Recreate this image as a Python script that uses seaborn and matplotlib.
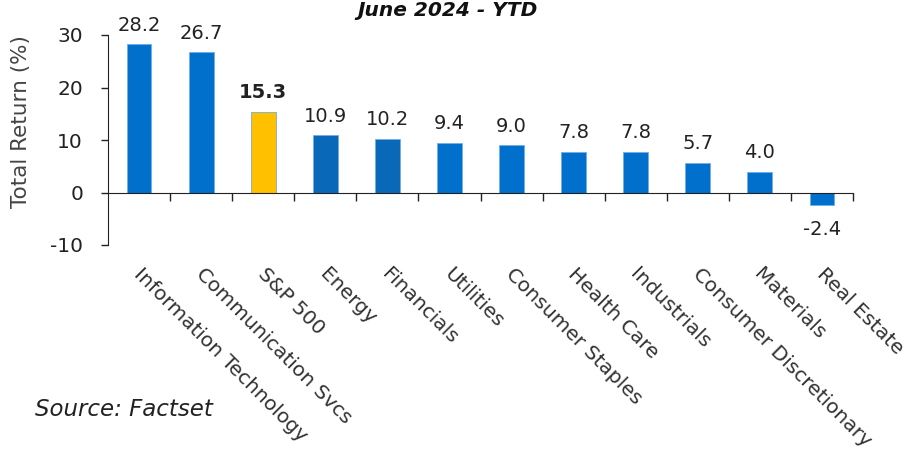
import matplotlib
matplotlib.use("Agg")
import matplotlib.pyplot as plt
import matplotlib.transforms as mtransforms
import seaborn as sns
import pandas as pd

categories = ["Information Technology", "Communication Svcs", "S&P 500", "Energy",
              "Financials", "Utilities", "Consumer Staples", "Health Care",
              "Industrials", "Consumer Discretionary", "Materials", "Real Estate"]
returns = [28.2, 26.7, 15.3, 10.9, 10.2, 9.4, 9.0, 7.8, 7.8, 5.7, 4.0, -2.4]
bar_colors = ["#0070CC", "#0070CC", "#FFC000", "#0A68B8", "#0A68B8", "#0070CC",
              "#0070CC", "#0070CC", "#0070CC", "#0070CC", "#0070CC", "#0070CC"]
highlight = "S&P 500"

sns.set_style("white")
plt.rcParams["font.family"] = ["DejaVu Sans"]
plt.rcParams["axes.unicode_minus"] = False

df = pd.DataFrame({"Sector": categories, "Return": returns})

W, H = 906, 451
fig = plt.figure(figsize=(W / 100, H / 100), dpi=100)
ax = fig.add_axes([108 / W, (H - 245) / H, (853 - 108) / W, (245 - 35) / H])

sns.barplot(data=df, x="Sector", y="Return", hue="Sector", palette=bar_colors,
            legend=False, width=0.4, ax=ax, saturation=1,
            edgecolor="#6FAEE8", linewidth=0.6)

ax.set_ylim(-10, 30)
ax.set_xlim(-0.5, len(categories) - 0.5)
ax.set_yticks([-10, 0, 10, 20, 30])
ax.tick_params(axis="y", labelsize=14.5, length=5, width=1, color="#222222",
               labelcolor="#222222", direction="out", left=True, pad=13)
ax.set_ylabel("Total Return (%)", fontsize=15.5, color="#444444")
ax.yaxis.set_label_coords(-0.103, 0.59)
ax.set_xlabel("")

for s in ["top", "right"]:
    ax.spines[s].set_visible(False)
ax.spines["left"].set_color("#222222")
ax.spines["bottom"].set_color("#222222")
ax.spines["bottom"].set_position(("data", 0))

# tick marks at category boundaries
ax.set_xticks([i + 0.5 for i in range(len(categories))])
ax.set_xticklabels([])
ax.tick_params(axis="x", length=6, width=1, color="#222222", direction="out", bottom=True)

# category labels
trans = mtransforms.offset_copy(ax.get_xaxis_transform(), fig=fig, x=3, y=-14, units="points")
for i, c in enumerate(categories):
    ax.text(i, 0, c, transform=trans, rotation=-45, rotation_mode="anchor",
            ha="left", va="top", fontsize=14.5, color="#333333")

# value labels
for cont, v in zip(ax.containers, returns):
    ax.bar_label(cont, fmt="%.1f", padding=(7 if v >= 0 else 11),
                 fontsize=14, color="#222222")

val_texts = [t for t in ax.texts if t.get_rotation() == 0]
for t in val_texts:
    if t.get_text() == f"{returns[categories.index(highlight)]:.1f}":
        t.set_fontweight("bold")

fig.text(448 / W, 1 - 16 / H, "June 2024 - YTD", ha="center", va="baseline",
         fontsize=14.5, fontweight="bold", fontstyle="italic", color="#111111")
fig.text(35 / W, 1 - 410 / H, "Source: Factset", ha="left", va="center",
         fontsize=16.5, fontstyle="italic", color="#222222")

fig.savefig("out.png", dpi=100)
